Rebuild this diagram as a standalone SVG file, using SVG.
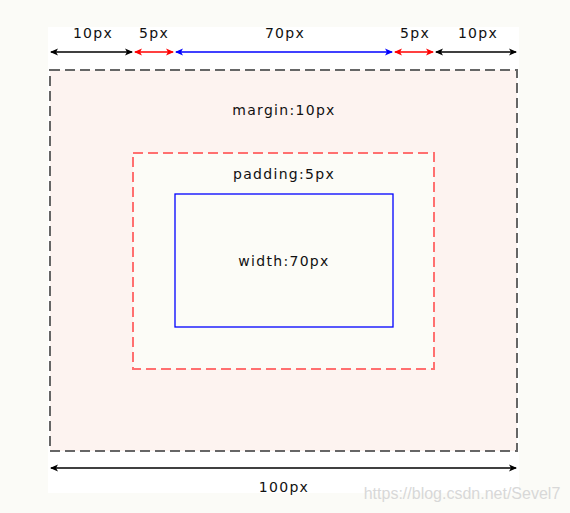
<svg xmlns="http://www.w3.org/2000/svg" width="570" height="513" viewBox="0 0 570 513">
<defs>
<marker id="ak" viewBox="0 0 8 8" refX="7" refY="4" markerWidth="8" markerHeight="8" markerUnits="userSpaceOnUse" orient="auto-start-reverse"><path d="M0,0.5 L8,4 L0,7.5 L2,4 Z" fill="#000"/></marker>
<marker id="ar" viewBox="0 0 8 8" refX="7" refY="4" markerWidth="8" markerHeight="8" markerUnits="userSpaceOnUse" orient="auto-start-reverse"><path d="M0,0.5 L8,4 L0,7.5 L2,4 Z" fill="#f00"/></marker>
<marker id="ab" viewBox="0 0 8 8" refX="7" refY="4" markerWidth="8" markerHeight="8" markerUnits="userSpaceOnUse" orient="auto-start-reverse"><path d="M0,0.5 L8,4 L0,7.5 L2,4 Z" fill="#00f"/></marker>
</defs>
<style>
text{font-family:"DejaVu Sans",Verdana,sans-serif;font-size:14px;letter-spacing:1.3px;fill:#111;text-anchor:middle}
.k{stroke:#000;stroke-width:1.3;marker-start:url(#ak);marker-end:url(#ak)}
.r{stroke:#f00;stroke-width:1.3;marker-start:url(#ar);marker-end:url(#ar)}
.b{stroke:#00f;stroke-width:1.3;marker-start:url(#ab);marker-end:url(#ab)}
</style>
<rect x="0" y="0" width="570" height="513" fill="#fbfbf7"/>
<rect x="48" y="27" width="471" height="466" fill="#ffffff"/>
<g id="margin">
<rect x="50" y="70" width="467" height="381" fill="#fdf3f0" stroke="#666" stroke-width="2" stroke-dasharray="10,5"/>
<text x="284" y="115">margin:10px</text>
</g>
<g id="padding">
<rect x="133" y="153" width="301" height="216" fill="#fcfcf7" stroke="#ff7070" stroke-width="2" stroke-dasharray="10,5"/>
<text x="284" y="179">padding:5px</text>
</g>
<g id="content">
<rect x="175" y="194" width="218" height="133" fill="#fcfcf7" stroke="#0000ff" stroke-width="1.3"/>
<text x="284" y="266">width:70px</text>
</g>
<g id="connectors">
<line class="k" x1="51" y1="52" x2="132" y2="52"/>
<line class="r" x1="135" y1="52" x2="173" y2="52"/>
<line class="b" x1="176" y1="52" x2="392" y2="52"/>
<line class="r" x1="395" y1="52" x2="433" y2="52"/>
<line class="k" x1="436" y1="52" x2="516" y2="52"/>
<line class="k" x1="51" y1="468" x2="516" y2="468"/>
</g>
<g id="labels">
<text x="93" y="38">10px</text>
<text x="154" y="38">5px</text>
<text x="285" y="38">70px</text>
<text x="415" y="38">5px</text>
<text x="478" y="38">10px</text>
<text x="284" y="492">100px</text>
</g>
<text x="462" y="499" style="font-family:'Liberation Sans',Arial,sans-serif;font-size:16px;letter-spacing:0;fill:#d8d8d8">https://blog.csdn.net/Sevel7</text>
</svg>
